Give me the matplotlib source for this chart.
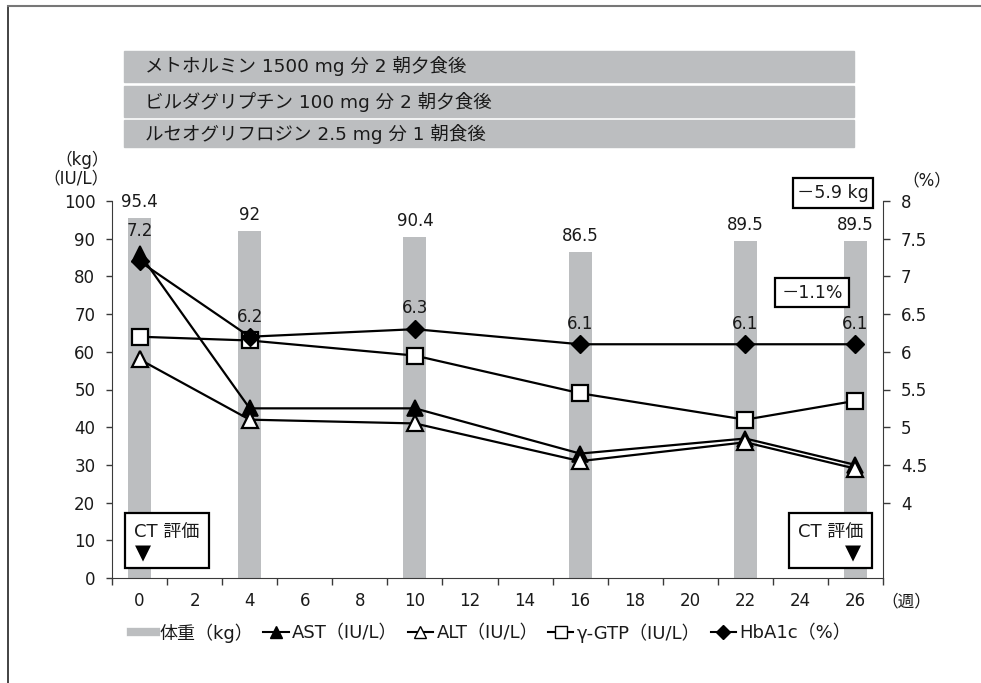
import matplotlib
matplotlib.use('Agg')
import matplotlib.pyplot as plt
import numpy as np
from matplotlib.lines import Line2D
from matplotlib.patches import Rectangle
from matplotlib.ticker import FuncFormatter

# ---- data ----
weeks = [0, 4, 10, 16, 22, 26]
weight = [95.4, 92, 90.4, 86.5, 89.5, 89.5]
ast = [86, 45, 45, 33, 37, 30]
alt = [58, 42, 41, 31, 36, 29]
gtp = [64, 63, 59, 49, 42, 47]
hba1c = [7.2, 6.2, 6.3, 6.1, 6.1, 6.1]
week_ticks = list(range(0, 27, 2))
left_ticks = list(range(0, 101, 10))
right_ticks = [4, 4.5, 5, 5.5, 6, 6.5, 7, 7.5, 8]
banners = ["メトホルミン 1500 mg 分 2 朝夕食後",
           "ビルダグリプチン 100 mg 分 2 朝夕食後",
           "ルセオグリフロジン 2.5 mg 分 1 朝食後"]
legend_labels = ["体重（kg）", "AST（IU/L）", "ALT（IU/L）", "γ-GTP（IU/L）", "HbA1c（%）"]
weight_change = "－5.9 kg"
hba1c_change = "－1.1%"
ct_label = "CT 評価"

# ---- style ----
plt.rcParams['font.family'] = ['DejaVu Sans', 'Noto Sans CJK JP']
GRAY = '#BCBEC0'
SPINE = '#3a3a3a'
TXT = '#1a1a1a'
FS = 12
hba1c_label_dy = [30, 20, 21, 20, 20, 20]

W, H = 981, 683
fig = plt.figure(figsize=(W / 100, H / 100), dpi=100)


def fx(x):
    return x / W


def fy(y):
    return 1 - y / H


ax = fig.add_axes([fx(112), fy(578), fx(883) - fx(112), fy(201) - fy(578)])
ax2 = ax.twinx()

# bars (weight)
ax.bar(weeks, weight, width=0.83, color=GRAY, zorder=1)
for w, v in zip(weeks, weight):
    ax.annotate(f"{v:g}", (w, v), xytext=(0, 16), textcoords='offset pixels',
                ha='center', va='center', fontsize=FS, color=TXT)

# lines
lw = 1.6
ax.plot(weeks, ast, color='black', lw=lw, marker='^', ms=11.5,
        mfc='black', mec='black', mew=1.2, zorder=3)
ax.plot(weeks, alt, color='black', lw=lw, marker='^', ms=11.5,
        mfc='white', mec='black', mew=1.6, zorder=4)
ax.plot(weeks, gtp, color='black', lw=lw, marker='s', ms=11,
        mfc='white', mec='black', mew=1.6, zorder=4)
ax2.plot(weeks, hba1c, color='black', lw=lw, marker='D', ms=9.5,
         mfc='black', mec='black', zorder=5)
for w, v, dy in zip(weeks, hba1c, hba1c_label_dy):
    ax2.annotate(f"{v:g}", (w, v), xytext=(0, dy), textcoords='offset pixels',
                 ha='center', va='center', fontsize=FS, color=TXT)

# axes
ax.set_xlim(-1, 27)
ax.set_ylim(0, 100)
ax2.set_ylim(3, 8)
ax.set_xticks(week_ticks)
ax.set_xticks(np.arange(-1, 28, 2), minor=True)
ax.tick_params(axis='x', which='major', length=0, pad=10, labelsize=FS, labelcolor=TXT)
ax.tick_params(axis='x', which='minor', length=5, width=1, color=SPINE, direction='out')
ax.set_yticks(left_ticks)
ax2.set_yticks(right_ticks)
ax2.yaxis.set_major_formatter(FuncFormatter(lambda v, p: f"{v:g}"))
ax.tick_params(axis='y', length=4, width=1, color=SPINE, pad=8, labelsize=FS, labelcolor=TXT)
ax2.tick_params(axis='y', length=5, width=1, color=SPINE, pad=8, labelsize=FS, labelcolor=TXT)
for a in (ax, ax2):
    a.spines['top'].set_visible(False)
ax.spines['right'].set_visible(False)
ax2.spines['left'].set_visible(False)
ax2.spines['bottom'].set_visible(False)
for s in ('left', 'bottom'):
    ax.spines[s].set_color(SPINE)
ax2.spines['right'].set_color(SPINE)

# unit labels
fig.text(fx(109), fy(160), "（kg）", ha='right', va='center', fontsize=FS, color=TXT)
fig.text(fx(109), fy(178), "（IU/L）", ha='right', va='center', fontsize=FS, color=TXT)
fig.text(fx(927), fy(180), "（%）", ha='center', va='center', fontsize=FS, color=TXT)
fig.text(fx(906), fy(601), "（週）", ha='center', va='center', fontsize=FS, color=TXT)

# banners
for (top, bot), txt in zip([(51, 82), (86, 117), (120, 147)], banners):
    fig.add_artist(Rectangle((fx(124), fy(bot)), fx(854) - fx(124), (bot - top) / H,
                             transform=fig.transFigure, color=GRAY, zorder=1))
    fig.text(fx(145), fy((top + bot) / 2), txt, ha='left', va='center',
             fontsize=13.3, color=TXT, zorder=2)

# change boxes
for (x0, y0, x1, y1), txt in zip([(793, 178, 873, 208), (775, 278, 849, 307)],
                                 [weight_change, hba1c_change]):
    fig.add_artist(Rectangle((fx(x0), fy(y1)), (x1 - x0) / W, (y1 - y0) / H,
                             transform=fig.transFigure, facecolor='white',
                             edgecolor='black', lw=1.6, zorder=6))
    fig.text(fx((x0 + x1) / 2), fy((y0 + y1) / 2), txt, ha='center', va='center',
             fontsize=12.5, color=TXT, zorder=7)

# CT boxes
for (x0, x1), align in zip([(125, 209), (789, 872)], ['left', 'right']):
    fig.add_artist(Rectangle((fx(x0), fy(568)), (x1 - x0) / W, (568 - 513) / H,
                             transform=fig.transFigure, facecolor='white',
                             edgecolor='black', lw=1.6, zorder=6))
    if align == 'left':
        fig.text(fx(x0 + 9), fy(532), ct_label, ha='left', va='center', fontsize=13,
                 color=TXT, zorder=7)
        fig.text(fx(x0 + 18), fy(553), "▼", ha='center', va='center', fontsize=15, zorder=7)
    else:
        fig.text(fx(x1 - 9), fy(532), ct_label, ha='right', va='center', fontsize=13,
                 color=TXT, zorder=7)
        fig.text(fx(x1 - 19), fy(553), "▼", ha='center', va='center', fontsize=15, zorder=7)

# frame
fig.add_artist(Line2D([fx(8), fx(8)], [fy(6), 0], transform=fig.transFigure,
                      color='#222222', lw=1.2))
fig.add_artist(Line2D([fx(8), 1], [fy(6), fy(6)], transform=fig.transFigure,
                      color='#777777', lw=1.5))

# legend
handles = [
    Line2D([], [], color=GRAY, lw=6),
    Line2D([], [], color='black', lw=1.5, marker='^', ms=9, mfc='black', mec='black'),
    Line2D([], [], color='black', lw=1.5, marker='^', ms=9, mfc='white', mec='black'),
    Line2D([], [], color='black', lw=1.5, marker='s', ms=8, mfc='white', mec='black'),
    Line2D([], [], color='black', lw=1.5, marker='D', ms=7, mfc='black', mec='black'),
]
fig.legend(handles, legend_labels, loc='center', bbox_to_anchor=(fx(491), fy(633)),
           ncol=5, frameon=False, handlelength=1.4, handletextpad=0.2,
           columnspacing=0.55, fontsize=13, borderaxespad=0,
           labelcolor=TXT)

fig.savefig('out.png', dpi=100)
